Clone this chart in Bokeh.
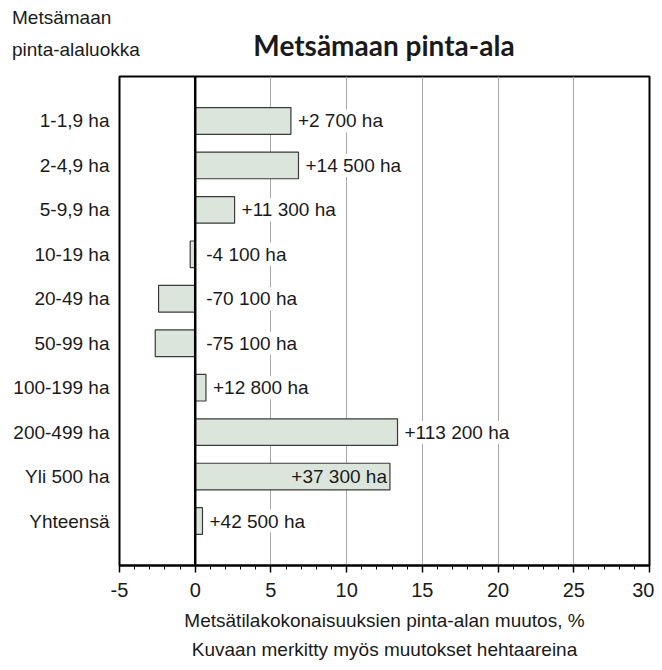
from bokeh.plotting import figure
from bokeh.layouts import column
from bokeh.models import (ColumnDataSource, Range1d, FixedTicker, SingleIntervalTicker,
                          Span, Title, Div)
from bokeh.core.properties import value
from bokeh.embed import file_html
from bokeh.resources import INLINE

# ---- data ----
categories = ["1-1,9 ha", "2-4,9 ha", "5-9,9 ha", "10-19 ha", "20-49 ha",
              "50-99 ha", "100-199 ha", "200-499 ha", "Yli 500 ha", "Yhteensä"]
change_pct = [6.32, 6.82, 2.6, -0.33, -2.42, -2.64, 0.71, 13.36, 12.86, 0.48]
change_ha = ["+2 700 ha", "+14 500 ha", "+11 300 ha", "-4 100 ha", "-70 100 ha",
             "-75 100 ha", "+12 800 ha", "+113 200 ha", "+37 300 ha", "+42 500 ha"]
grid_ticks = [5, 10, 15, 20, 25]

title_text = "Metsämaan pinta-ala"
ylabel_lines = ["Metsämaan", "pinta-alaluokka"]
xlabel_lines = ["Metsätilakokonaisuuksien pinta-alan muutos, %",
                "Kuvaan merkitty myös muutokset hehtaareina"]

FONT = "Liberation Sans"
BAR_FILL = "#dce5dc"
TXT = "#1a1a1a"
W = 654
HEAD_H = 66

# ---------------- header (caption + title) ----------------
span_css = ("position:absolute;white-space:nowrap;line-height:1;"
            "font-family:'Liberation Sans';font-size:19px;color:%s;" % TXT)
head_html = (
    '<div style="position:relative;width:%dpx;height:%dpx;">' % (W, HEAD_H)
    + '<span style="%sleft:12px;top:8px;">%s</span>' % (span_css, ylabel_lines[0])
    + '<span style="%sleft:12px;top:40px;">%s</span>' % (span_css, ylabel_lines[1])
    + '<span style="position:absolute;white-space:nowrap;line-height:1;'
      'left:384px;top:31px;transform:translateX(-50%%);font-family:Lato;'
      'font-weight:bold;font-size:28px;color:%s;">%s</span>' % (TXT, title_text)
    + '</div>'
)
head = Div(text=head_html, width=W, height=HEAD_H, margin=0)

# ---------------- main chart ----------------
pos = list(range(1, len(categories) + 1))
inside = [i == 8 for i in range(len(categories))]

src = ColumnDataSource(dict(y=pos, v=change_pct, cat=categories))

out_idx = [i for i in range(len(categories)) if not inside[i]]
in_idx = [i for i in range(len(categories)) if inside[i]]
src_out = ColumnDataSource(dict(
    x=[max(change_pct[i], 0) for i in out_idx],
    y=[pos[i] for i in out_idx],
    t=[change_ha[i] for i in out_idx],
    dx=[6 if change_pct[i] > 0 else 10 for i in out_idx],
))
src_in = ColumnDataSource(dict(
    x=[change_pct[i] for i in in_idx],
    y=[pos[i] for i in in_idx],
    t=[change_ha[i] for i in in_idx],
))

p = figure(width=W, height=662 - HEAD_H, output_backend="svg", toolbar_location=None,
           x_range=Range1d(-5, 30), y_range=Range1d(len(categories) + 1, 0),
           min_border_left=119, min_border_right=5, min_border_top=10,
           min_border_bottom=97, margin=0)
p.outline_line_color = "black"
p.outline_line_width = 2

# grid
p.xgrid.ticker = FixedTicker(ticks=grid_ticks)
p.xgrid.grid_line_color = "#a8a8a8"
p.xgrid.grid_line_width = 1
p.ygrid.grid_line_color = None

# bars
p.hbar(y="y", left=0, right="v", height=0.6, source=src,
       fill_color=BAR_FILL, line_color="#3a3a3a", line_width=1.2)

# zero line
p.add_layout(Span(location=0, dimension="height", line_color="black",
                  line_width=2.5, level="overlay"))

# value labels
p.text(x="x", y="y", text="t", source=src_out, x_offset="dx",
       text_font=value(FONT), text_font_size="19px", text_color=TXT,
       text_align="left", text_baseline="middle",
       background_fill_color="white", padding=1)
p.text(x="x", y="y", text="t", source=src_in, x_offset=-3,
       text_font=value(FONT), text_font_size="19px", text_color=TXT,
       text_align="right", text_baseline="middle")

# x axis
xa = p.xaxis[0]
xa.ticker = SingleIntervalTicker(interval=5, num_minor_ticks=5)
xa.major_label_overrides = {-5: "-5"}
xa.axis_line_color = "black"
xa.axis_line_width = 2
xa.major_tick_in = 0
xa.major_tick_out = 7
xa.minor_tick_in = 0
xa.minor_tick_out = 4
xa.major_tick_line_color = "black"
xa.major_tick_line_width = 1.5
xa.minor_tick_line_color = "black"
xa.minor_tick_line_width = 1
xa.major_label_text_font = FONT
xa.major_label_text_font_size = "20px"
xa.major_label_text_color = TXT
xa.major_label_standoff = 10
xa.axis_label = xlabel_lines[0]
xa.axis_label_text_font = FONT
xa.axis_label_text_font_size = "19px"
xa.axis_label_text_font_style = "normal"
xa.axis_label_text_color = TXT
xa.axis_label_standoff = 10
p.add_layout(Title(text=xlabel_lines[1], align="center", text_font=FONT,
                   text_font_size="19px", text_font_style="normal",
                   text_color=TXT, standoff=6), "below")

# y axis
ya = p.yaxis[0]
ya.ticker = FixedTicker(ticks=pos)
ya.major_label_overrides = {pos[i]: categories[i] for i in range(len(categories))}
ya.axis_line_color = None
ya.major_tick_line_color = None
ya.major_tick_in = 0
ya.major_tick_out = 0
ya.minor_tick_line_color = None
ya.major_label_standoff = 10
ya.major_label_text_font = FONT
ya.major_label_text_font_size = "19px"
ya.major_label_text_color = TXT

open("out.html", "w").write(file_html(column(head, p, spacing=0), INLINE))
